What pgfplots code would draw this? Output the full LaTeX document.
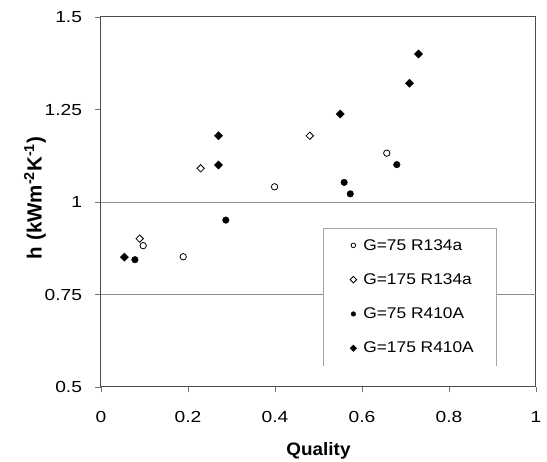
\documentclass[border=0pt]{standalone}
\usepackage{fontspec}
\setmainfont{Liberation Sans}
\newfontfamily\tickf{Liberation Sans}[FakeStretch=1.2]
\newfontfamily\legf{Liberation Sans}[FakeStretch=1.12]
\newfontfamily\labf{Liberation Sans}[FakeStretch=1.05]
\usepackage{pgfplots}
\pgfplotsset{compat=1.18}
\begin{document}
\begin{tikzpicture}[x=1pt,y=1pt]
\path[use as bounding box] (-101,-75) rectangle (446,387);
\begin{axis}[
  at={(0,0)}, anchor=south west,
  scale only axis, width=435pt, height=370pt,
  xmin=0, xmax=1, ymin=0.5, ymax=1.5,
  xtick={0,0.2,0.4,0.6,0.8,1},
  xticklabels={0,0.2,0.4,0.6,0.8,1},
  ytick={0.5,0.75,1,1.25,1.5},
  yticklabels={0.5,0.75,1,1.25,1.5},
  tick align=outside, major tick length=5.5pt,
  xtick pos=bottom, ytick pos=left,
  tick style={black!55, line width=0.8pt},
  axis line style={black!70, line width=1pt},
  ticklabel style={font=\tickf\fontsize{16}{19}\selectfont},
  xticklabel style={yshift=-15pt},
  yticklabel style={xshift=-10pt},
  extra y ticks={0.75,1},
  extra y tick labels={},
  extra y tick style={grid=major, major tick length=0pt, major grid style={black!45, line width=0.8pt}},
  xlabel={\labf\fontsize{18}{21}\selectfont\bfseries Quality},
  ylabel={\fontsize{20.5}{24}\selectfont\bfseries h (kWm\textsuperscript{-2}K\textsuperscript{-1})},
  xlabel style={at={(axis description cs:0.5,0)}, anchor=base, yshift=-69pt},
  ylabel style={at={(axis description cs:-0.152,0.511)}, anchor=center},
  legend style={name=leg, at={(0.5103,0.4297)}, anchor=north west, draw=none, fill=white,
     font=\legf\fontsize{15.5}{18}\selectfont, inner xsep=0pt, inner ysep=0pt,
     row sep=0pt,
     nodes={minimum height=34.3pt, inner sep=0pt, anchor=west},
     /tikz/every odd column/.append style={column sep=6.7pt}},
  legend cell align=left,
  legend image code/.code={\path (0pt,0pt); \draw[mark size=2.3pt] plot coordinates {(30pt,0pt)};},
]
\addplot[only marks, mark=*, mark size=3.2pt, mark options={fill=white, draw=black, line width=0.8pt}]
  coordinates {(0.097,0.882) (0.189,0.852) (0.399,1.041) (0.657,1.132)};
\addlegendentry{G=75 R134a\rule{22pt}{0pt}}
\addplot[only marks, mark=square*, mark size=2.6pt, mark options={rotate=45, fill=white, draw=black, line width=0.8pt}]
  coordinates {(0.089,0.901) (0.229,1.091) (0.480,1.179)};
\addlegendentry{G=175 R134a\rule{22pt}{0pt}}
\addplot[only marks, mark=*, mark size=3.3pt, mark options={fill=black, draw=black}]
  coordinates {(0.078,0.844) (0.287,0.951) (0.559,1.053) (0.573,1.022) (0.680,1.101)};
\addlegendentry{G=75 R410A\rule{22pt}{0pt}}
\addplot[only marks, mark=square*, mark size=2.9pt, mark options={rotate=45, fill=black, draw=black}]
  coordinates {(0.054,0.851) (0.270,1.179) (0.270,1.100) (0.550,1.238) (0.709,1.321) (0.730,1.400)};
\addlegendentry{G=175 R410A\rule{22pt}{0pt}}
\end{axis}
\draw[black!35, line width=0.8pt] (leg.south west) -- (leg.north west) -- (leg.north east) -- (leg.south east);
\end{tikzpicture}
\end{document}
